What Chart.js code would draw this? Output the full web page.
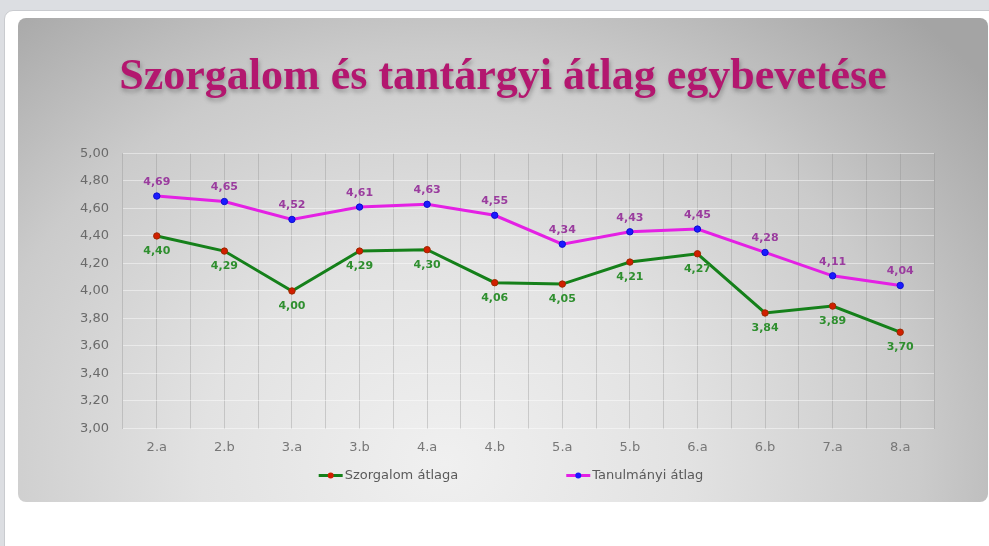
<!DOCTYPE html>
<html>
<head>
<meta charset="utf-8">
<script src="https://cdn.jsdelivr.net/npm/chart.js@4.4.1/dist/chart.umd.min.js"></script>
<style>
  html, body { margin: 0; padding: 0; }
  body { width: 989px; height: 546px; background: #dcdee2; position: relative; overflow: hidden; }
  #card { position: absolute; left: 4px; top: 10px; width: 1000px; height: 550px; background: #ffffff;
          border: 1px solid #c9cbcf; border-radius: 9px; box-sizing: border-box; }
  #wrap { position: absolute; left: 18px; top: 18px; width: 970px; height: 484px; border-radius: 8px; overflow: hidden;
          background: radial-gradient(ellipse 72% 125% at 44% 92%, #f0f0f0 0%, #e2e2e2 35%, #cbcbcb 68%, #a4a4a4 100%); }
  #c { display: block; }
</style>
</head>
<body>
<div id="card"></div>
<div id="wrap"><canvas id="c"></canvas></div>
<script>
const titleText = 'Szorgalom és tantárgyi átlag egybevetése';
const categories = ['2.a', '2.b', '3.a', '3.b', '4.a', '4.b', '5.a', '5.b', '6.a', '6.b', '7.a', '8.a'];
const szorgalom = [4.40, 4.29, 4.00, 4.29, 4.30, 4.06, 4.05, 4.21, 4.27, 3.84, 3.89, 3.70];
const tanulmanyi = [4.69, 4.65, 4.52, 4.61, 4.63, 4.55, 4.34, 4.43, 4.45, 4.28, 4.11, 4.04];
const seriesNames = ['Szorgalom átlaga', 'Tanulmányi átlag'];
const yMin = 3.0, yMax = 5.0, yStep = 0.2;

const fmt = v => Number(v).toFixed(2).replace('.', ',');
const FONT = "'DejaVu Sans', Verdana, sans-serif";

// style per dataset (index-aligned)
const styles = [
  { line: '#15801a', point: '#d21e00', pointBorder: '#9a2a00', label: '#2f8f2f', labelDy: 15 },
  { line: '#e420e4', point: '#1a1aff', pointBorder: '#1010d0', label: '#9a3c9e', labelDy: -14 }
];

const dataLabelPlugin = {
  id: 'dataLabels',
  afterDatasetsDraw(chart) {
    const ctx = chart.ctx;
    ctx.save();
    ctx.font = "bold 11px " + FONT;
    ctx.textAlign = 'center';
    ctx.textBaseline = 'middle';
    chart.data.datasets.forEach((ds, i) => {
      const meta = chart.getDatasetMeta(i);
      const st = styles[i];
      ctx.fillStyle = st.label;
      meta.data.forEach((pt, j) => {
        ctx.fillText(fmt(ds.data[j]), pt.x, pt.y + st.labelDy);
      });
    });
    ctx.restore();
  }
};

const legendPlugin = {
  id: 'customLegend',
  afterDraw(chart) {
    const ctx = chart.ctx;
    ctx.save();
    ctx.font = "13px " + FONT;
    ctx.textBaseline = 'middle';
    ctx.textAlign = 'left';
    const sample = 24, gapText = 2, gapItems = 108;
    const items = chart.data.datasets.map((ds, i) => ({ ds, i, w: sample + gapText + ctx.measureText(ds.label).width }));
    const total = items.reduce((a, b) => a + b.w, 0) + gapItems * (items.length - 1);
    const cx = (chart.width / 2) + 8;
    let x = cx - total / 2;
    const y = chart.chartArea.bottom + 47;
    items.forEach(it => {
      const st = styles[it.i];
      ctx.strokeStyle = st.line;
      ctx.lineWidth = 3;
      ctx.beginPath(); ctx.moveTo(x, y); ctx.lineTo(x + sample, y); ctx.stroke();
      ctx.fillStyle = st.point;
      ctx.beginPath(); ctx.arc(x + sample / 2, y, 3, 0, Math.PI * 2); ctx.fill();
      ctx.fillStyle = '#5a5a5a';
      ctx.fillText(it.ds.label, x + sample + gapText, y);
      x += it.w + gapItems;
    });
    ctx.restore();
  }
};

const titleShadowPlugin = {
  id: 'titleShadow',
  beforeDraw(chart) {
    const t = chart.titleBlock;
    if (t && !t._shadowWrapped) {
      const orig = t.draw.bind(t);
      t.draw = function () {
        const c = this.ctx;
        c.save();
        c.shadowColor = 'rgba(60,60,60,0.4)';
        c.shadowOffsetX = 1;
        c.shadowOffsetY = 3;
        c.shadowBlur = 4;
        orig();
        c.restore();
      };
      t._shadowWrapped = true;
    }
  }
};

const vGrid = 'rgba(140,140,140,0.35)';
const hGrid = 'rgba(255,255,255,0.45)';

new Chart(document.getElementById('c'), {
  type: 'line',
  data: {
    labels: categories,
    datasets: [
      { label: seriesNames[0], data: szorgalom, borderColor: styles[0].line, backgroundColor: styles[0].point,
        pointBackgroundColor: styles[0].point, pointBorderColor: styles[0].pointBorder, pointBorderWidth: 1,
        pointRadius: 3.2, borderWidth: 3, tension: 0, fill: false },
      { label: seriesNames[1], data: tanulmanyi, borderColor: styles[1].line, backgroundColor: styles[1].point,
        pointBackgroundColor: styles[1].point, pointBorderColor: styles[1].pointBorder, pointBorderWidth: 1,
        pointRadius: 3.2, borderWidth: 3, tension: 0, fill: false }
    ]
  },
  options: {
    responsive: true,
    maintainAspectRatio: false,
    animation: false,
    layout: { padding: { left: 54, right: 54, top: 0, bottom: 43.5 } },
    plugins: {
      legend: { display: false },
      tooltip: { enabled: false },
      title: {
        display: true,
        text: titleText,
        color: '#b3176f',
        font: { family: "'Liberation Serif', 'Times New Roman', serif", size: 44, weight: 'bold', lineHeight: 1.2 },
        padding: { top: 33.6, bottom: 49 }
      }
    },
    scales: {
      x: {
        type: 'category',
        offset: true,
        grid: { offset: true, color: vGrid, drawTicks: false, lineWidth: 1 },
        border: { display: false },
        ticks: { padding: 11, color: '#777777', font: { family: FONT, size: 13 }, maxRotation: 0 },
        afterFit: s => { s.height = 30; }
      },
      x2: {
        type: 'category',
        labels: categories,
        offset: true,
        position: 'bottom',
        grid: { offset: false, color: vGrid, drawTicks: false, lineWidth: 1 },
        border: { display: false },
        ticks: { display: false },
        afterFit: s => { s.height = 0; }
      },
      y: {
        min: yMin,
        max: yMax,
        grid: { color: hGrid, drawTicks: false, lineWidth: 1 },
        border: { display: false },
        ticks: { stepSize: yStep, padding: 14, color: '#6a6a6a', font: { family: FONT, size: 13 },
                 callback: v => fmt(v) },
        afterFit: s => { s.width = 51; }
      }
    }
  },
  plugins: [dataLabelPlugin, legendPlugin, titleShadowPlugin]
});
</script>
</body>
</html>
